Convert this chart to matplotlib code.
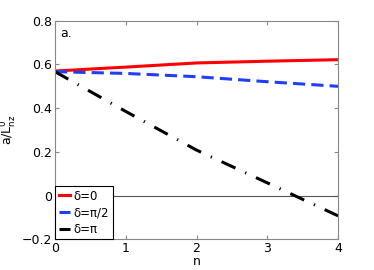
import matplotlib.pyplot as plt
import numpy as np

n = [0, 1, 2, 3, 4]
d0 = [0.570, 0.588, 0.607, 0.615, 0.622]
d_half = [0.567, 0.559, 0.544, 0.521, 0.500]
d_pi = [0.567, 0.385, 0.208, 0.058, -0.093]
labels = ['\u03b4=0', '\u03b4=\u03c0/2', '\u03b4=\u03c0']

plt.rcParams['font.size'] = 9
fig = plt.figure(figsize=(3.74, 2.70), dpi=100)
ax = fig.add_axes([0.147, 0.114, 0.757, 0.809])

ax.axhline(0, color='#555555', lw=0.8)
ax.plot(n, d0, color='red', lw=2.2, label=labels[0])
ax.plot(n, d_half, color='#1f3fff', lw=2.2, linestyle=(0, (4, 2)), label=labels[1])
ax.plot(n, d_pi, color='black', lw=2.2, linestyle=(0, (5, 3.5, 0.4, 3.5)), label=labels[2])

ax.set_xlim(0, 4)
ax.set_ylim(-0.2, 0.8)
ax.set_xticks([0, 1, 2, 3, 4])
ax.set_yticks([-0.2, 0, 0.2, 0.4, 0.6, 0.8])
ax.set_yticklabels(['\u22120.2', '0', '0.2', '0.4', '0.6', '0.8'])
ax.tick_params(direction='in', top=True, right=True, length=3, color='#888888', pad=2)
for s in ax.spines.values():
    s.set_color('#888888')
    s.set_linewidth(0.8)

ax.set_xlabel('n', labelpad=0)
ax.set_ylabel(r'a/L$_{\rm nz}^{\rm 0}$', labelpad=2)
ax.text(0.02, 0.97, 'a.', transform=ax.transAxes, va='top', ha='left')

leg = ax.legend(loc='lower left', borderaxespad=0, handlelength=1.0, handletextpad=0.3,
                fancybox=False, framealpha=1, edgecolor='black', borderpad=0.3,
                labelspacing=0.3, fontsize=8.5)
leg.get_frame().set_linewidth(0.8)

fig.savefig('out.png', dpi=100)
